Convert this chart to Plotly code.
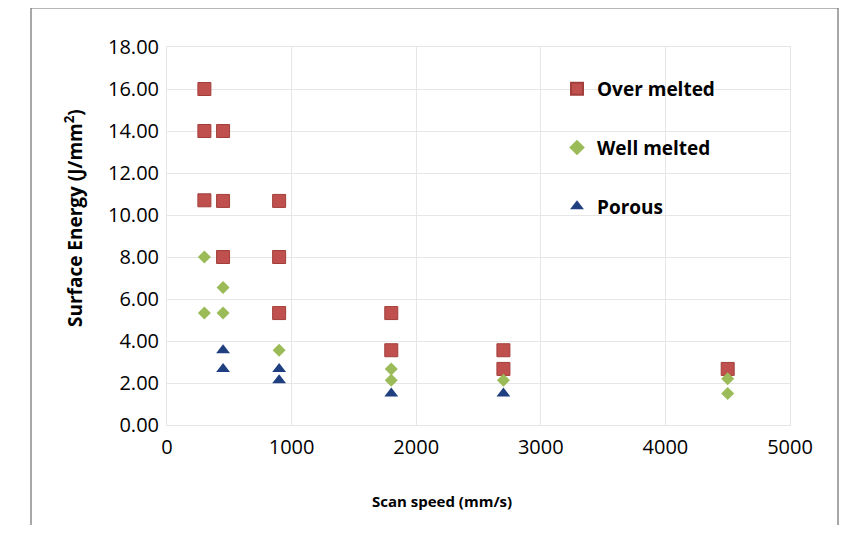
import plotly.graph_objects as go

# scan speed (mm/s) and surface energy (J/mm2)
over_x = [300, 300, 450, 300, 450, 900, 450, 900, 900, 1800, 1800, 2700, 2700, 4500]
over_y = [16.0, 14.0, 14.0, 10.7, 10.67, 10.67, 8.0, 8.0, 5.33, 5.33, 3.56, 3.56, 2.67, 2.67]

well_x = [300, 450, 300, 450, 900, 1800, 1800, 2700, 4500, 4500]
well_y = [8.0, 6.55, 5.33, 5.33, 3.56, 2.67, 2.13, 2.13, 2.2, 1.5]

porous_x = [450, 450, 900, 900, 1800, 2700]
porous_y = [3.56, 2.67, 2.67, 2.13, 1.5, 1.5]

x_ticks = [0, 1000, 2000, 3000, 4000, 5000]
y_ticks = [0, 2, 4, 6, 8, 10, 12, 14, 16, 18]

tick_font = dict(family="Open Sans, sans-serif", size=20, color="#000000")

fig = go.Figure()

fig.add_trace(go.Scatter(
    x=over_x, y=over_y, name="Over melted", mode="markers",
    legendgroup="a",
    marker=dict(symbol="square", size=13, color="#C0504D",
                line=dict(width=1, color="#A23F3C")),
))
fig.add_trace(go.Scatter(
    x=well_x, y=well_y, name="Well melted", mode="markers",
    legendgroup="b",
    marker=dict(symbol="diamond", size=10, color="#9BBB59",
                line=dict(width=0)),
))
fig.add_trace(go.Scatter(
    x=porous_x, y=porous_y, name="Porous", mode="markers",
    legendgroup="c",
    marker=dict(symbol="triangle-up", size=12, color="#1F3F80",
                line=dict(width=0)),
))

fig.update_xaxes(
    range=[0, 5000], tickvals=x_ticks, ticktext=[str(v) for v in x_ticks],
    showgrid=True, gridcolor="#E6E6E6", gridwidth=1,
    showline=True, linecolor="#E6E6E6", linewidth=1, mirror=True,
    zeroline=False, ticks="", tickfont=tick_font, ticklabelstandoff=4,
)
fig.update_yaxes(
    range=[0, 18], tickvals=y_ticks, ticktext=["%.2f" % v for v in y_ticks],
    showgrid=True, gridcolor="#E6E6E6", gridwidth=1,
    showline=True, linecolor="#E6E6E6", linewidth=1, mirror=True,
    zeroline=False, ticks="", tickfont=tick_font, ticklabelstandoff=3,
)

# outer frame around the whole chart
fig.add_shape(type="rect", xref="paper", yref="paper",
              x0=-0.2183, x1=(838 - 167) / 623, y0=-0.31, y1=1.1032,
              line=dict(color="#6E6E6E", width=1.2), fillcolor="rgba(0,0,0,0)")

fig.add_annotation(text="Scan speed (mm/s)", xref="paper", yref="paper",
                   x=(442 - 167) / 623, y=(425 - 501) / 378, showarrow=False,
                   xanchor="center", yanchor="middle",
                   font=dict(family="Open Sans, sans-serif", size=15, color="#000000", weight="bold"))
fig.add_annotation(text="Surface Energy (J/mm<sup>2</sup>)", xref="paper", yref="paper",
                   x=(74 - 167) / 623, y=(425 - 218) / 378, showarrow=False, textangle=-90,
                   xanchor="center", yanchor="middle",
                   font=dict(family="Open Sans, sans-serif", size=19, color="#000000", weight="bold"))

# page body adds an 8px margin, so the figure is sized to fit the window
fig.update_layout(
    width=842, height=517,
    margin=dict(l=159, r=60, t=39, b=100),
    paper_bgcolor="white", plot_bgcolor="white",
    showlegend=True,
    legend=dict(
        x=(557 - 167) / 623, y=(425 - 70) / 378, xanchor="left", yanchor="top",
        bgcolor="rgba(255,255,255,0)", borderwidth=0,
        tracegroupgap=31, traceorder="grouped",
        font=dict(family="Open Sans, sans-serif", size=19, color="#000000", weight="bold"),
        itemsizing="constant",
    ),
)

fig.write_html("out.html")
